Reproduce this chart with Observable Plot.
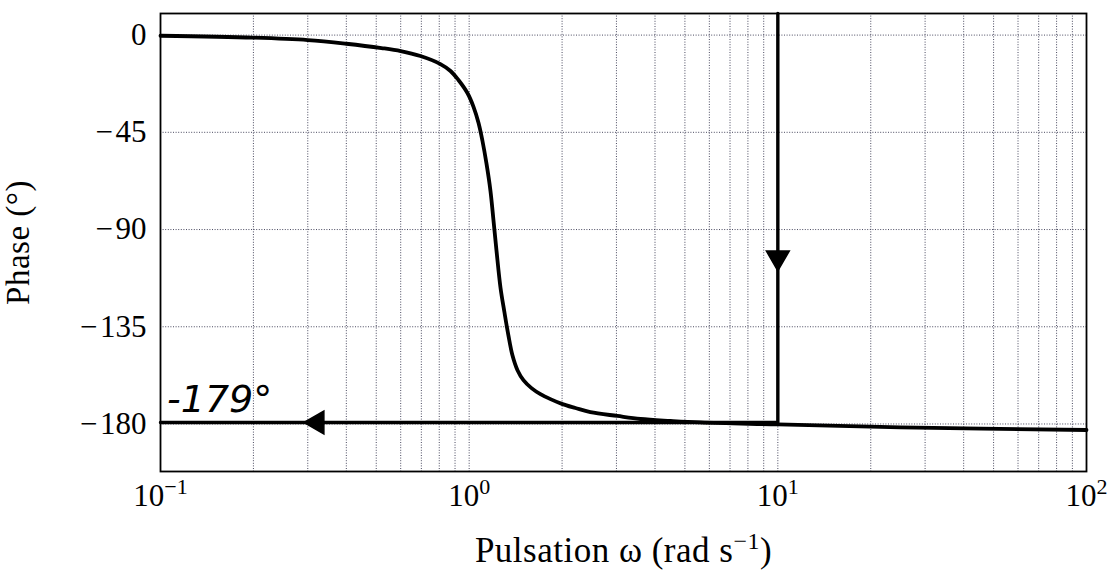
<!DOCTYPE html>
<html>
<head>
<meta charset="utf-8">
<script src="https://cdn.jsdelivr.net/npm/d3@7"></script>
<script src="https://cdn.jsdelivr.net/npm/@observablehq/plot@0.6"></script>
<style>
  html, body { margin: 0; padding: 0; background: white; }
</style>
</head>
<body>
<div id="chart"></div>
<script>
// Phase curve
const omega = [0.1, 0.2, 0.3, 0.4, 0.52, 0.6, 0.695, 0.807, 0.87, 0.923, 0.987, 1.033, 1.072, 1.104, 1.138, 1.172, 1.199, 1.226, 1.263, 1.301, 1.34, 1.381, 1.434, 1.499, 1.592, 1.702, 1.834, 2.006, 2.21, 2.47, 3.02, 3.59, 4.49, 5.62, 10, 25, 100];
const phase = [-0.3, -1.2, -2.3, -4, -6, -7.4, -9.7, -13.4, -16.6, -20.8, -26.8, -33.2, -40.6, -48.9, -59.5, -72, -85.8, -99.7, -116.8, -128.3, -139, -148.2, -155.1, -159.7, -163.4, -166.2, -168.5, -170.8, -172.6, -174.5, -176.3, -177.7, -178.6, -179.3, -180.2, -181.6, -182.8];

// Axis ticks
const xTicks = [0.1, 1, 10, 100];
const xTickLabels = ["10^−1", "10^0", "10^1", "10^2"];
const xGrid = [0.1,0.2,0.3,0.4,0.5,0.6,0.7,0.8,0.9, 1,2,3,4,5,6,7,8,9, 10,20,30,40,50,60,70,80,90, 100];
const yTicks = [0, -45, -90, -135, -180];
const xLabel = "Pulsation ω (rad s^−1)";
const yLabel = "Phase (°)";

// Hand-drawn annotations
const handOmega = [0.1, 10, 10];
const handPhase = [-179.3, -179.3, 10];
const arrowOmega = [0.322, 10];
const arrowPhase = [-179.3, -103];
const arrowRotate = [-90, 180];
const noteText = ["-179°"];
const noteOmega = [0.105];
const notePhase = [-174.5];

const curve = omega.map((w, i) => ({w, p: phase[i]}));
const hand = handOmega.map((w, i) => ({w, p: handPhase[i]}));
const arrows = arrowOmega.map((w, i) => ({w, p: arrowPhase[i], r: arrowRotate[i]}));
const notes = noteText.map((t, i) => ({t, w: noteOmega[i], p: notePhase[i]}));

const gridStyle = {stroke: "#2a2a44", strokeOpacity: 0.85, strokeWidth: 1, strokeDasharray: "1,1.6"};

const chart = Plot.plot({
  width: 1109,
  height: 572,
  marginLeft: 160,
  marginRight: 23,
  marginTop: 13,
  marginBottom: 101,
  x: {type: "log", domain: [0.1, 100]},
  y: {domain: [-202, 10]},
  style: {fontFamily: "'Liberation Serif', 'DejaVu Serif', serif", background: "white", color: "black"},
  marks: [
    Plot.gridX(xGrid, gridStyle),
    Plot.gridY(yTicks, gridStyle),
    Plot.axisX(xTicks, {
      tickSize: 0, tickPadding: 12, fontSize: 31,
      tickFormat: d => xTickLabels[xTicks.indexOf(d)],
      label: xLabel, labelAnchor: "center", labelArrow: "none", labelOffset: 90
    }),
    Plot.axisY(yTicks, {
      tickSize: 0, tickPadding: 14, fontSize: 31,
      tickFormat: d => d < 0 ? "−\u200A" + (-d) : String(d),
      label: yLabel, labelAnchor: "center", labelArrow: "none", labelOffset: 155
    }),
    Plot.line(curve, {x: "w", y: "p", stroke: "black", strokeWidth: 3.8, curve: "catmull-rom"}),
    Plot.line(hand, {x: "w", y: "p", stroke: "black", strokeWidth: 3.4}),
    Plot.dot(arrows, {x: "w", y: "p", symbol: "triangle", r: 8.5, fill: "black", stroke: "black", rotate: "r"}),
    Plot.text(notes, {x: "w", y: "p", text: "t", textAnchor: "start", lineAnchor: "bottom",
      fontSize: 38, fontStyle: "italic", fontWeight: 300, fontFamily: "'DejaVu Sans', sans-serif", fill: "black"}),
    Plot.frame({stroke: "black", strokeWidth: 1.8})
  ]
});

// Turn "a^b" into real superscripts
function superscript(textEl, supSize, shift) {
  const s = textEl.textContent;
  const k = s.indexOf("^");
  if (k < 0) return;
  const ns = "http://www.w3.org/2000/svg";
  const rest = s.slice(k + 1);
  const m = rest.match(/^([−\-]?\d+)(.*)$/);
  const sup = m ? m[1] : rest;
  const after = m ? m[2] : "";
  textEl.textContent = s.slice(0, k);
  const t1 = document.createElementNS(ns, "tspan");
  t1.setAttribute("font-size", supSize);
  t1.setAttribute("dy", -shift);
  t1.textContent = sup;
  textEl.appendChild(t1);
  if (after) {
    const t2 = document.createElementNS(ns, "tspan");
    t2.setAttribute("dy", shift);
    t2.textContent = after;
    textEl.appendChild(t2);
  }
}
chart.querySelectorAll('g[aria-label="x-axis tick label"] text').forEach(t => superscript(t, 22, 12));
chart.querySelectorAll('g[aria-label="x-axis label"] text').forEach(t => { t.setAttribute("font-size", 35); t.setAttribute("letter-spacing", 0.5); superscript(t, 24, 13); });
chart.querySelectorAll('g[aria-label="y-axis label"] text').forEach(t => { t.setAttribute("font-size", 33); t.setAttribute("letter-spacing", 0.5); });

document.getElementById("chart").appendChild(chart);
</script>
</body>
</html>
